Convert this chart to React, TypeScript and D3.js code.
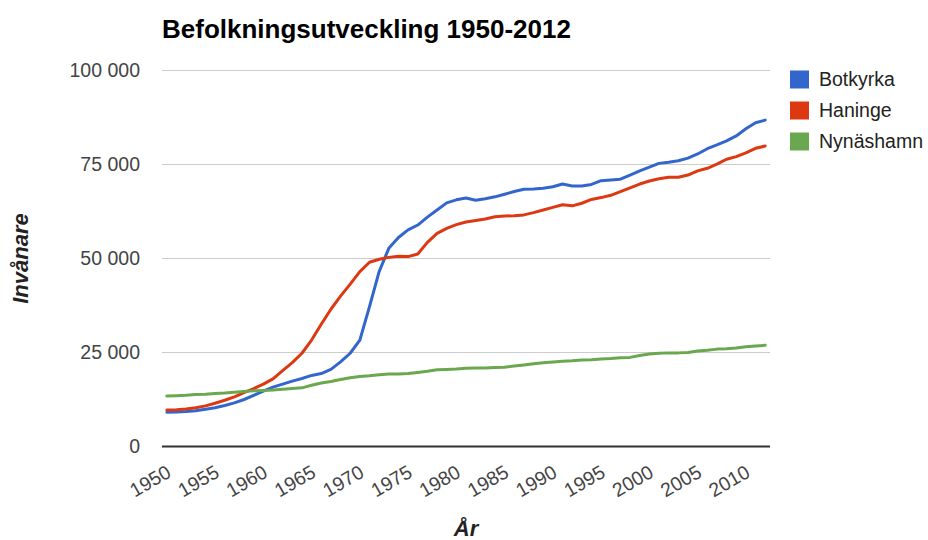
import React, { useRef, useEffect } from "react";
import * as d3 from "d3";

const years = d3.range(1950, 2013);

const botkyrka = [
  9100, 9200, 9300, 9500, 9900, 10300, 10900, 11600, 12500, 13600,
  14700, 15800, 16600, 17400, 18100, 18900, 19400, 20500, 22500, 24800,
  28300, 37200, 46500, 52700, 55600, 57600, 58900, 61000, 62900, 64800,
  65600, 66100, 65500, 65900, 66400, 67100, 67800, 68400, 68500, 68700,
  69100, 69800, 69300, 69300, 69700, 70700, 70900, 71100, 72200, 73300,
  74300, 75300, 75600, 76000, 76700, 77800, 79200, 80200, 81300, 82600,
  84500, 86100, 86800,
];

const haninge = [
  9700, 9800, 10000, 10300, 10800, 11500, 12300, 13200, 14300, 15400,
  16600, 18000, 20200, 22300, 24800, 28300, 32500, 36500, 40000, 43200,
  46500, 49000, 49800, 50300, 50600, 50500, 51200, 54300, 56700, 58000,
  59000, 59700, 60100, 60500, 61100, 61300, 61400, 61600, 62200, 62900,
  63600, 64300, 64000, 64700, 65700, 66200, 66800, 67800, 68800, 69800,
  70600, 71200, 71600, 71600, 72200, 73300, 74000, 75100, 76400, 77100,
  78100, 79300, 79900,
];

const nynashamn = [
  13400, 13500, 13600, 13800, 13900, 14100, 14200, 14400, 14600, 14800,
  14900, 15000, 15200, 15400, 15600, 16300, 16900, 17300, 17800, 18300,
  18600, 18800, 19100, 19300, 19300, 19400, 19700, 20000, 20400, 20500,
  20600, 20800, 20900, 20900, 21000, 21100, 21400, 21700, 22000, 22300,
  22500, 22700, 22800, 23000, 23100, 23300, 23400, 23600, 23700, 24200,
  24600, 24800, 24900, 24900, 25000, 25400, 25600, 25900, 26000, 26200,
  26500, 26700, 26900,
];

const seriesNames = ["Botkyrka", "Haninge", "Nynäshamn"];
const seriesColors = ["#3366cc", "#dc3912", "#6aa84f"];
const yTicks = [0, 25000, 50000, 75000, 100000];
const xTicks = d3.range(1950, 2011, 5);

const FONT = "'Liberation Sans', Arial, sans-serif";

export default function App() {
  const svgRef = useRef<SVGSVGElement>(null);
  const width = 928;
  const height = 540;
  const margin = { top: 70.5, right: 158, bottom: 93.5, left: 162 };

  useEffect(() => {
    draw();
  }, []);

  const draw = () => {
    const svg = d3.select(svgRef.current);
    svg.selectAll("*").remove();

    const x = d3
      .scalePoint<number>()
      .domain(years)
      .range([margin.left, width - margin.right])
      .padding(0.5);
    const y = d3
      .scaleLinear()
      .domain([0, 100000])
      .range([height - margin.bottom, margin.top]);

    const sv = d3.formatLocale({
      decimal: ",",
      thousands: "\u00a0",
      grouping: [3],
      currency: ["", " kr"],
    });
    const fmt = sv.format(",d");

    // grid + y labels
    const yAxis = svg.append("g");
    yAxis
      .selectAll("line")
      .data(yTicks.filter((d) => d > 0))
      .join("line")
      .attr("x1", margin.left)
      .attr("x2", width - margin.right)
      .attr("y1", (d) => y(d))
      .attr("y2", (d) => y(d))
      .attr("stroke", "#cccccc")
      .attr("stroke-width", 1);
    yAxis
      .selectAll("text")
      .data(yTicks)
      .join("text")
      .attr("x", 140)
      .attr("y", (d) => y(d))
      .attr("dy", "0.35em")
      .attr("text-anchor", "end")
      .attr("font-family", FONT)
      .attr("font-size", 19.5)
      .attr("fill", "#444")
      .text((d) => fmt(d));

    // x labels, slanted
    svg
      .append("g")
      .selectAll("text")
      .data(xTicks)
      .join("text")
      .attr("text-anchor", "end")
      .attr("transform", (d) => `translate(${x(d)! + 5.5},${y(0) + 29.5}) rotate(-30)`)
      .attr("font-family", FONT)
      .attr("font-size", 19.5)
      .attr("fill", "#444")
      .text((d) => d);

    const allSeries = [botkyrka, haninge, nynashamn];
    const line = d3
      .line<number>()
      .x((d, i) => x(years[i])!)
      .y((d) => y(d));

    svg
      .append("g")
      .selectAll("path")
      .data(allSeries)
      .join("path")
      .attr("d", (d) => line(d))
      .attr("fill", "none")
      .attr("stroke", (d, i) => seriesColors[i])
      .attr("stroke-width", 3)
      .attr("stroke-linejoin", "round")
      .attr("stroke-linecap", "round");

    // baseline
    svg
      .append("line")
      .attr("x1", margin.left)
      .attr("x2", width - margin.right)
      .attr("y1", y(0))
      .attr("y2", y(0))
      .attr("stroke", "#333")
      .attr("stroke-width", 2);

    // title
    svg
      .append("text")
      .attr("x", margin.left)
      .attr("y", 38)
      .attr("font-family", FONT)
      .attr("font-size", 26)
      .attr("font-weight", "bold")
      .attr("fill", "#000")
      .text("Befolkningsutveckling 1950-2012");

    // axis titles
    svg
      .append("text")
      .attr("x", (margin.left + width - margin.right) / 2)
      .attr("y", 536)
      .attr("text-anchor", "middle")
      .attr("font-family", FONT)
      .attr("font-size", 22)
      .attr("font-weight", "bold")
      .attr("font-style", "italic")
      .attr("fill", "#222")
      .text("År");
    svg
      .append("text")
      .attr("transform", `translate(28,${(y(0) + y(100000)) / 2}) rotate(-90)`)
      .attr("text-anchor", "middle")
      .attr("font-family", FONT)
      .attr("font-size", 22)
      .attr("font-weight", "bold")
      .attr("font-style", "italic")
      .attr("fill", "#222")
      .text("Invånare");

    // legend
    const legend = svg
      .append("g")
      .selectAll("g")
      .data(seriesNames)
      .join("g")
      .attr("transform", (d, i) => `translate(790, ${79.5 + i * 31})`);
    legend
      .append("rect")
      .attr("x", 0)
      .attr("y", -9)
      .attr("width", 19)
      .attr("height", 18)
      .attr("fill", (d, i) => seriesColors[i]);
    legend
      .append("text")
      .attr("x", 29)
      .attr("y", 0)
      .attr("dy", "0.35em")
      .attr("font-family", FONT)
      .attr("font-size", 19.5)
      .attr("fill", "#222")
      .text((d) => d);
  };

  return (
    <svg
      ref={svgRef}
      width={width}
      height={height}
      style={{ position: "absolute", left: 0, top: 0, background: "#fff" }}
    ></svg>
  );
}
